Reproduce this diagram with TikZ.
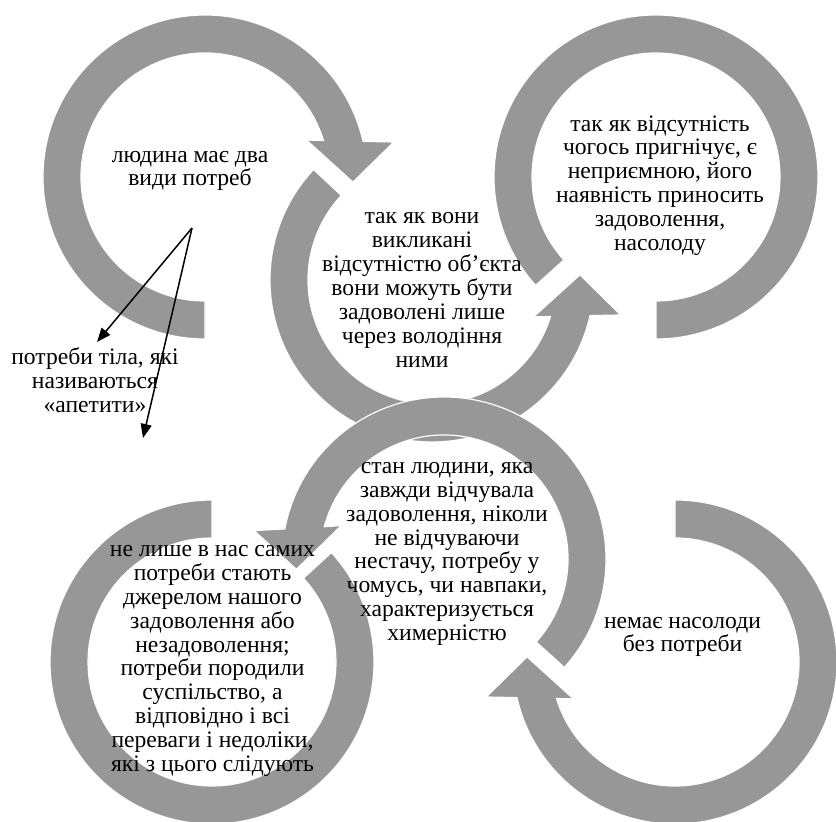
\documentclass[tikz,border=0pt]{standalone}
\usepackage{fontspec}
\setmainfont{Liberation Serif}
\usetikzlibrary{arrows.meta}
\definecolor{ringgray}{RGB}{151,151,151}
\tikzset{
  ring/.style={fill=ringgray, draw=white, line width=1.2pt},
  txt/.style={align=center, inner sep=0pt, font=\fontsize{23.6}{23.9}\selectfont},
  pointer/.style={line width=1.5pt, -{Triangle[length=14pt,width=11pt]}}
}
% circular arrow: centre x, centre y, tail angle, head angle, direction (+1 ccw, -1 cw)
\newcommand{\ringArrow}[5]{%
  \begin{scope}[shift={(#1,#2)}]
    \path[ring] (#3:162) arc[start angle=#3, end angle={#4-(#5)*12.7}, radius=162]
      -- ({#4-(#5)*10.5}:192) -- ({#4+(#5)*2}:148) -- ({#4-(#5)*20}:108)
      -- ({#4-(#5)*17.1}:124)
      arc[start angle={#4-(#5)*17.1}, end angle=#3, radius=124] -- cycle;
  \end{scope}}
% open ring without a head: centre x, centre y, start angle, end angle
\newcommand{\ringPlain}[4]{%
  \begin{scope}[shift={(#1,#2)}]
    \path[ring] (#3:162) arc[start angle=#3, end angle=#4, radius=162]
      -- (#4:124) arc[start angle=#4, end angle=#3, radius=124] -- cycle;
  \end{scope}}
\begin{document}
\begin{tikzpicture}[x=1pt, y=1pt]
\useasboundingbox (0,0) rectangle (836,822);

\ringArrow{205}{645}{270}{0}{-1}
\ringArrow{432}{542}{137}{360}{1}
\ringPlain{656}{645}{270}{582}
\ringArrow{444}{263}{-42}{182}{1}
\ringPlain{212}{160}{90}{402.5}
\ringArrow{675}{160}{90}{-180}{-1}

\node[txt] (n1) at (190,651) {людина має два\\види потреб};
\node[txt] (n2) at (422,532) {так як вони\\викликані\\відсутністю об’єкта\\вони можуть бути\\задоволені лише\\через володіння\\ними};
\node[txt] (n3) at (660,636.5) {так як відсутність\\чогось пригнічує, є\\неприємною, його\\наявність приносить\\задоволення,\\насолоду};
\node[txt] (n4) at (447,268) {стан людини, яка\\завжди відчувала\\задоволення, ніколи\\не відчуваючи\\нестачу, потребу у\\чомусь, чи навпаки,\\характеризується\\химерністю};
\node[txt] (n5) at (212.5,161) {не лише в нас самих\\потреби стають\\джерелом нашого\\задоволення або\\незадоволення;\\потреби породили\\суспільство, а\\відповідно і всі\\переваги і недоліки,\\які з цього слідують};
\node[txt] (n6) at (682.5,185) {немає насолоди\\без потреби};
\node[txt] (n7) at (95,442) {потреби тіла, які\\називаються\\«апетити»};

\coordinate (src) at (192,594);
\coordinate (tipA) at (97,480);
\coordinate (tipB) at (143,384);
\draw[pointer] (src) -- (tipA);
\draw[pointer] (src) -- (tipB);
\end{tikzpicture}
\end{document}
